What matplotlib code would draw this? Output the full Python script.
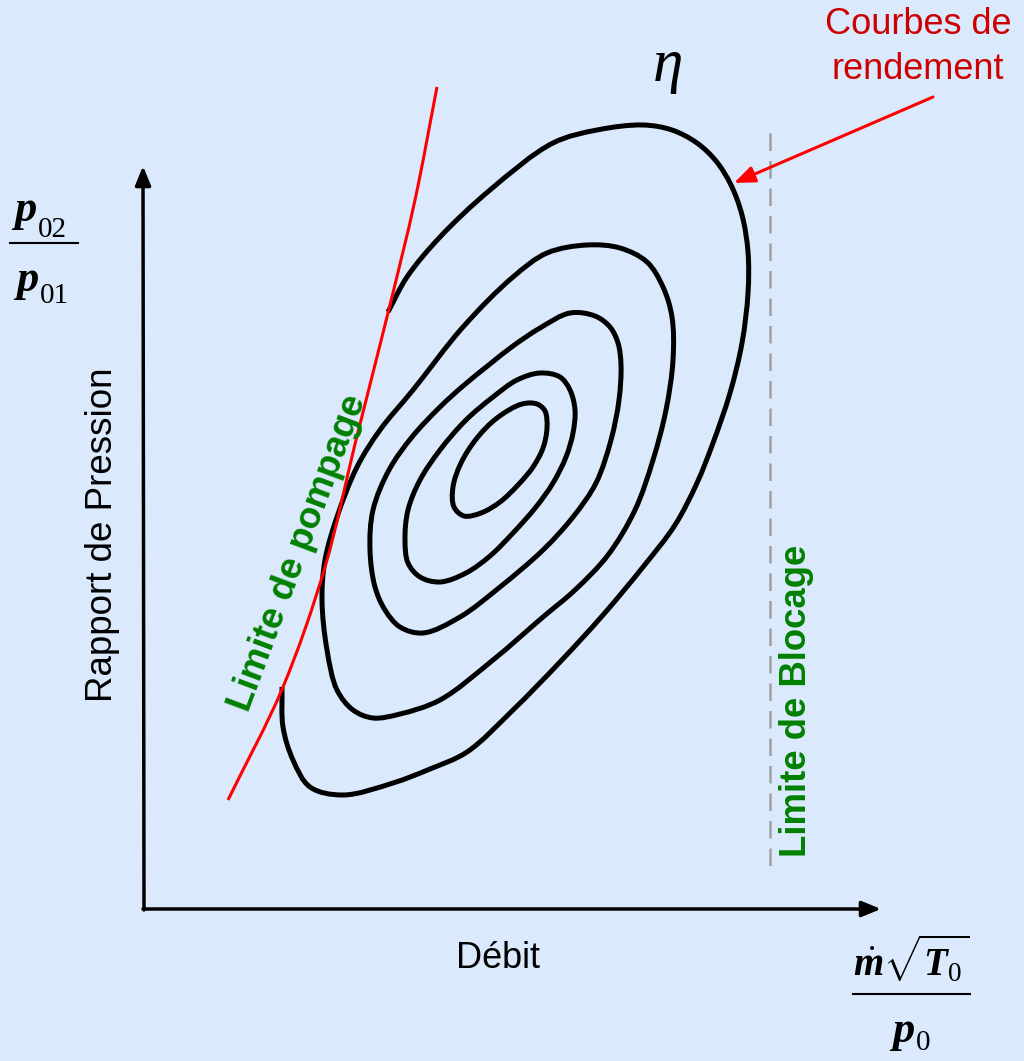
import numpy as np
import matplotlib
matplotlib.use("Agg")
import matplotlib.pyplot as plt
from matplotlib.path import Path
from matplotlib.patches import PathPatch

plt.rcParams['font.family'] = ['Liberation Sans', 'DejaVu Sans']
plt.rcParams['mathtext.fontset'] = 'custom'
plt.rcParams['mathtext.rm'] = 'Liberation Serif'
plt.rcParams['mathtext.it'] = 'Liberation Serif:italic'
plt.rcParams['mathtext.bf'] = 'Liberation Serif:italic:bold'

# Efficiency contours (closed iso-efficiency islands, innermost first), drawing units
eta1_x = [522, 537, 545, 547, 543, 533, 518, 500, 481, 464, 454, 453, 461, 477, 497]
eta1_y = [404, 404, 411, 428, 448, 467, 485, 502, 513, 516, 507, 487, 463, 438, 418]

eta2_x = [540, 560, 570, 575, 573, 566, 553, 536, 513, 490, 466, 440, 420, 408, 405, 408, 420, 440, 466, 493, 517]
eta2_y = [373, 377, 390, 410, 433, 457, 483, 507, 533, 556, 573, 582, 577, 563, 540, 510, 480, 450, 420, 397, 380]

eta3_x = [570, 595, 610, 618, 621, 619, 611, 596, 573, 543, 500, 460, 423, 400, 385, 375, 370, 373, 389, 412, 440, 463, 490, 513, 540]
eta3_y = [313, 316, 327, 343, 365, 400, 440, 483, 517, 550, 587, 617, 633, 627, 610, 587, 550, 510, 470, 437, 407, 386, 364, 346, 328]

eta4_x = [587, 620, 647, 663, 672, 673, 666, 653, 635, 608, 575, 543, 493, 440, 400, 373, 353, 337, 327, 322, 325, 337, 357, 380, 413, 463, 513, 547]
eta4_y = [245, 248, 262, 287, 317, 360, 410, 460, 510, 555, 590, 617, 660, 700, 714, 718, 710, 690, 650, 600, 560, 517, 467, 430, 390, 327, 277, 253]

# Outer contour, cut off by the surge line
eta5_x = [388, 407, 440, 490, 553, 597, 643, 672, 697, 716, 731, 742, 748, 748, 742, 730, 713, 697, 675, 643, 603, 560, 513, 467, 430, 393, 343, 310, 293, 283, 282]
eta5_y = [312, 277, 237, 190, 143, 130, 125, 130, 143, 161, 185, 215, 252, 293, 343, 393, 443, 483, 525, 567, 615, 662, 710, 752, 769, 783, 795, 787, 760, 727, 687]

# Surge line
surge_x = [228, 283, 325, 356, 388, 415, 437]
surge_y = [800, 687, 567, 440, 313, 200, 87]

# Choke limit
choke_x = 770
choke_y = [133, 875]


def smooth_path(xs, ys, closed):
    """Centripetal Catmull-Rom spline through the points, as cubic Bezier segments."""
    p = np.column_stack([xs, ys]).astype(float)
    n = len(p)
    if closed:
        pts = np.vstack([p[-1], p, p[0], p[1]])
    else:
        pts = np.vstack([2 * p[0] - p[1], p, 2 * p[-1] - p[-2]])
    nseg = n if closed else n - 1
    verts = [pts[1]]
    codes = [Path.MOVETO]
    for i in range(nseg):
        p0, p1, p2, p3 = pts[i], pts[i + 1], pts[i + 2], pts[i + 3]
        d1 = np.sqrt(np.hypot(*(p1 - p0)))
        d2 = np.sqrt(np.hypot(*(p2 - p1)))
        d3 = np.sqrt(np.hypot(*(p3 - p2)))
        c1 = (d1**2 * p2 - d2**2 * p0 + (2 * d1**2 + 3 * d1 * d2 + d2**2) * p1) / (3 * d1 * (d1 + d2))
        c2 = (d3**2 * p1 - d2**2 * p3 + (2 * d3**2 + 3 * d3 * d2 + d2**2) * p2) / (3 * d3 * (d3 + d2))
        verts += [c1, c2, p2]
        codes += [Path.CURVE4] * 3
    return Path(verts, codes)


fig = plt.figure(figsize=(10.24, 10.61), dpi=100)
bg = '#DBE9FC'
fig.patch.set_facecolor(bg)
ax = fig.add_axes([0, 0, 1, 1])
ax.set_facecolor(bg)
ax.set_xlim(0, 1024)
ax.set_ylim(1061, 0)
ax.axis('off')

# Axes with arrow heads
ax.annotate('', xy=(143, 166), xytext=(144, 910),
            arrowprops=dict(arrowstyle='-|>,head_length=1.15,head_width=0.47',
                            mutation_scale=10, lw=2.5, color='black',
                            shrinkA=0, shrinkB=0))
ax.annotate('', xy=(881, 909), xytext=(143, 909),
            arrowprops=dict(arrowstyle='-|>,head_length=1.15,head_width=0.47',
                            mutation_scale=10, lw=2.5, color='black',
                            shrinkA=0, shrinkB=0))

# Choke limit
ax.plot([choke_x, choke_x], choke_y, color='#A0A0A0', lw=1.8,
        dashes=(7, 4), solid_capstyle='butt')

# Efficiency contours
for xs, ys in [(eta1_x, eta1_y), (eta2_x, eta2_y), (eta3_x, eta3_y), (eta4_x, eta4_y)]:
    ax.add_patch(PathPatch(smooth_path(xs, ys, True), fill=False,
                           edgecolor='black', lw=3.6, capstyle='butt', joinstyle='round'))
ax.add_patch(PathPatch(smooth_path(eta5_x, eta5_y, False), fill=False,
                       edgecolor='black', lw=3.6, capstyle='butt', joinstyle='round'))

# Surge line
ax.add_patch(PathPatch(smooth_path(surge_x, surge_y, False), fill=False,
                       edgecolor='#FF0000', lw=2.2))

# Pointer to the efficiency curves
ax.annotate('', xy=(734, 183), xytext=(933, 97),
            arrowprops=dict(arrowstyle='-|>,head_length=1.25,head_width=0.5',
                            mutation_scale=10, lw=2.2, color='#FF0000',
                            shrinkA=0, shrinkB=0))

# Labels
ax.text(918, 47, 'Courbes de\nrendement', color='#CC0000', fontsize=26,
        ha='center', va='center', linespacing=1.38)
ax.text(668, 66, 'η', fontfamily='Liberation Serif', fontstyle='italic',
        fontsize=44, ha='center', va='center')
ax.text(103, 535, 'Rapport de Pression', fontsize=26.5, rotation=90,
        ha='center', va='center')
ax.text(498, 958, 'Débit', fontsize=26, ha='center', va='center')
ax.text(298, 553, 'Limite de pompage', fontsize=26.5, fontweight='bold',
        color='#008000', rotation=69.5, rotation_mode='anchor',
        ha='center', va='center')
ax.text(797, 701, 'Limite de Blocage', fontsize=26.3, fontweight='bold',
        color='#008000', rotation=90, ha='center', va='center')

serif = 'Liberation Serif'

# Pressure ratio fraction
ax.text(14, 221, 'p', fontfamily=serif, fontstyle='italic', fontweight='bold',
        fontsize=32, ha='left', va='baseline')
ax.text(38, 237, '02', fontfamily=serif, fontsize=21, ha='left', va='baseline')
ax.plot([10, 78], [243, 243], color='black', lw=1.5)
ax.text(16, 291, 'p', fontfamily=serif, fontstyle='italic', fontweight='bold',
        fontsize=32, ha='left', va='baseline')
ax.text(40, 303, '01', fontfamily=serif, fontsize=21, ha='left', va='baseline')

# Corrected mass flow fraction
ax.text(911, 959, r'$\dot{\mathbf{m}}\sqrt{\mathbf{T}_{\mathrm{0}}}$', fontsize=28,
        ha='center', va='center')
ax.plot([853, 970], [994, 994], color='black', lw=1.5)
ax.text(892, 1042, 'p', fontfamily=serif, fontstyle='italic', fontweight='bold',
        fontsize=32, ha='left', va='baseline')
ax.text(916, 1050, '0', fontfamily=serif, fontsize=21, ha='left', va='baseline')

fig.savefig('out.png', dpi=100, facecolor=bg)
